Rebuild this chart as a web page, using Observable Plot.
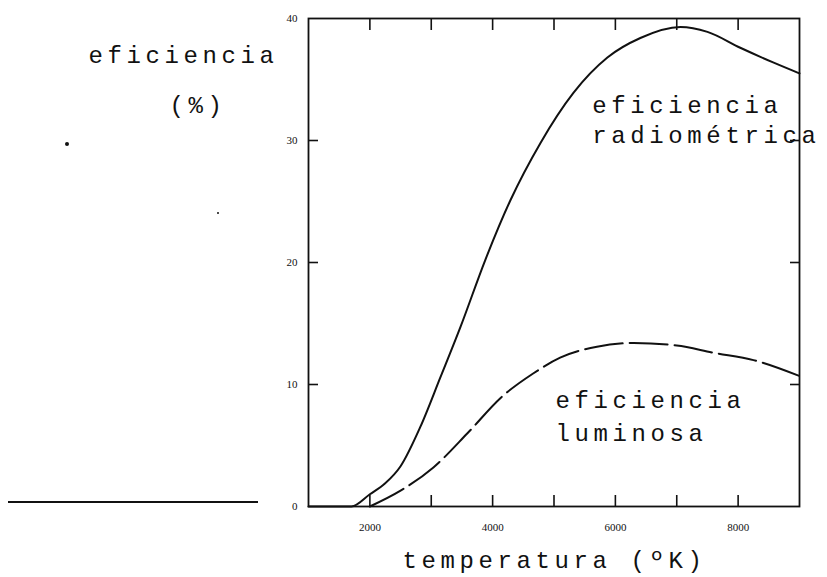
<!DOCTYPE html>
<html>
<head>
<meta charset="utf-8">
<script src="https://cdn.jsdelivr.net/npm/d3@7"></script>
<script src="https://cdn.jsdelivr.net/npm/@observablehq/plot@0.6"></script>
<style>
  html, body { margin: 0; padding: 0; background: #fff; }
  #wrap { position: relative; width: 827px; height: 577px; }
  g[font-family="Liberation Mono"] text { letter-spacing: 4.6px; }
  .speck { position: absolute; background: #111; }
</style>
</head>
<body>
<div id="wrap"></div>
<script>
// Radiometric efficiency (solid curve)
const radTemp = [1000, 1700, 2000, 2250, 2500, 2820, 3150, 3475, 3880, 4290, 4780, 5316, 5870, 6407, 7060, 7500, 8035, 8570, 9000];
const radEff  = [0, 0, 1.0, 1.9, 3.3, 6.5, 10.6, 14.7, 20.2, 25.1, 29.8, 33.9, 36.8, 38.4, 39.3, 38.9, 37.6, 36.4, 35.5];
// Luminous efficiency (dashed curve)
const lumTemp = [2000, 2500, 3035, 3590, 4130, 4660, 5100, 5700, 6300, 7000, 7600, 8250, 9000];
const lumEff  = [0, 1.3, 3.2, 6.0, 8.9, 10.9, 12.2, 13.1, 13.4, 13.2, 12.6, 12.0, 10.7];
// Axis ticks
const xTicks = [2000, 3000, 4000, 5000, 6000, 7000, 8000];
const xTickLabels = [2000, 4000, 6000, 8000];
const yTicks = [10, 20, 30];
const yTickLabels = [0, 10, 20, 30, 40];
// Texts
const yTitle = ["eficiencia", "(%)"];
const xTitle = "temperatura (ºK)";
const curveLabels = [
  {text: "eficiencia", t: 5625, e: 32.9},
  {text: "radiométrica", t: 5625, e: 30.4},
  {text: "eficiencia", t: 5023, e: 8.7},
  {text: "luminosa", t: 5023, e: 6.0}
];

const rad = radTemp.map((t, i) => ({t, e: radEff[i]}));
const lum = lumTemp.map((t, i) => ({t, e: lumEff[i]}));

const mono = "Liberation Mono";
const serif = "Liberation Serif";
const blank = () => "";

const chart = Plot.plot({
  width: 827,
  height: 577,
  marginLeft: 308,
  marginRight: 28,
  marginTop: 18,
  marginBottom: 71,
  style: {background: "#fff", color: "#111"},
  x: {domain: [1000, 9000]},
  y: {domain: [0, 40]},
  marks: [
    Plot.frame({stroke: "#111", strokeWidth: 1.8}),
    // inward tick marks
    Plot.axisX(xTicks, {anchor: "bottom", tickSize: -11, tickFormat: blank, strokeWidth: 1.6, label: null}),
    Plot.axisX(xTicks, {anchor: "top", tickSize: -11, tickFormat: blank, strokeWidth: 1.6, label: null}),
    Plot.axisY(yTicks, {anchor: "left", tickSize: -10, tickFormat: blank, strokeWidth: 1.6, label: null}),
    Plot.axisY(yTicks, {anchor: "right", tickSize: -10, tickFormat: blank, strokeWidth: 1.6, label: null}),
    // tick labels
    Plot.axisX(xTickLabels, {anchor: "bottom", tickSize: 0, tickPadding: 17, tickFormat: d => String(d), fontSize: 11, fontFamily: serif, label: null}),
    Plot.axisY(yTickLabels, {anchor: "left", tickSize: 0, tickPadding: 11, tickFormat: d => String(d), fontSize: 11, fontFamily: serif, label: null}),
    // curves
    Plot.line(rad, {x: "t", y: "e", curve: "monotone-x", stroke: "#111", strokeWidth: 2}),
    Plot.line(lum, {x: "t", y: "e", curve: "monotone-x", stroke: "#111", strokeWidth: 2, strokeDasharray: "38,7"}),
    // curve labels
    Plot.text(curveLabels, {x: "t", y: "e", text: "text", textAnchor: "start", lineAnchor: "middle", fontSize: 24, fontFamily: mono, fill: "#111"}),
    // axis titles
    Plot.text([yTitle[0]], {frameAnchor: "top-left", dx: -220, dy: 37, textAnchor: "start", lineAnchor: "middle", fontSize: 24, fontFamily: mono, fill: "#111"}),
    Plot.text([yTitle[1]], {frameAnchor: "top-left", dx: -139, dy: 87, textAnchor: "start", lineAnchor: "middle", fontSize: 24, fontFamily: mono, fill: "#111"}),
    Plot.text([xTitle], {frameAnchor: "bottom-left", dx: 94, dy: 54, textAnchor: "start", lineAnchor: "middle", fontSize: 24, fontFamily: mono, fill: "#111"})
  ]
});

const wrap = document.getElementById("wrap");
wrap.appendChild(chart);

// scan artifacts of the original picture
const specks = [
  {l: 8, t: 501, w: 250, h: 1.5},
  {l: 65, t: 142, w: 4, h: 4},
  {l: 217, t: 212, w: 2, h: 2}
];
for (const s of specks) {
  const d = document.createElement("div");
  d.className = "speck";
  d.style.left = s.l + "px"; d.style.top = s.t + "px";
  d.style.width = s.w + "px"; d.style.height = s.h + "px";
  if (s.w === s.h) d.style.borderRadius = "50%";
  wrap.appendChild(d);
}
</script>
</body>
</html>
